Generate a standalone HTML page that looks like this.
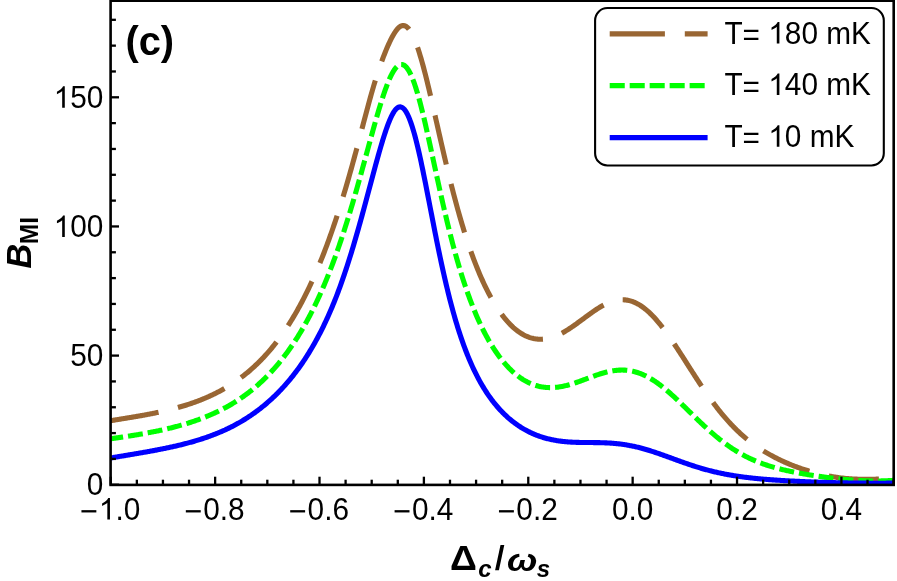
<!DOCTYPE html>
<html><head><meta charset="utf-8"><title>chart</title>
<style>
html,body{margin:0;padding:0;background:#fff;}
text{filter:grayscale(1);}
svg{display:block;font-family:"Liberation Sans",sans-serif;}
</style></head>
<body>
<svg width="897" height="581" viewBox="0 0 897 581">
<rect x="0" y="0" width="897" height="581" fill="#fff"/>
<defs><clipPath id="pc"><rect x="110.6" y="0.7" width="784.9" height="484.2"/></clipPath></defs>
<g clip-path="url(#pc)" fill="none" stroke-width="5.1" stroke-linejoin="round">
<path d="M110.70,420.68 L111.57,420.54 L112.44,420.40 L113.32,420.26 L114.19,420.12 L115.06,419.98 L115.93,419.83 L116.80,419.69 L117.67,419.55 L118.55,419.41 L119.42,419.27 L120.29,419.13 L121.16,418.99 L122.03,418.85 L122.91,418.71 L123.78,418.57 L124.65,418.42 L125.52,418.28 L126.39,418.14 L127.26,418.00 L128.14,417.85 L129.01,417.71 L129.88,417.56 L130.75,417.42 L131.62,417.27 L132.50,417.13 L133.37,416.98 L134.24,416.83 L135.11,416.68 L135.98,416.53 L136.85,416.38 L137.73,416.23 L138.60,416.08 L139.47,415.93 L140.34,415.77 L141.21,415.62 L142.08,415.46 L142.96,415.30 L143.83,415.15 L144.70,414.99 L145.57,414.83 L146.44,414.66 L147.32,414.50 L148.19,414.33 L149.06,414.17 L149.93,414.00 L150.80,413.83 L151.67,413.66 L152.55,413.49 L153.42,413.31 L154.29,413.14 L155.16,412.96 L156.03,412.78 L156.91,412.60 L157.78,412.41 L158.65,412.23 L159.52,412.04 L160.39,411.85 L161.26,411.66 L162.14,411.47 L163.01,411.27 L163.88,411.07 L164.75,410.87 L165.62,410.67 L166.50,410.46 L167.37,410.26 L168.24,410.05 L169.11,409.83 L169.98,409.62 L170.85,409.40 L171.73,409.18 L172.60,408.96 L173.47,408.73 L174.34,408.50 L175.21,408.27 L176.09,408.04 L176.96,407.80 L177.83,407.56 L178.70,407.31 L179.57,407.07 L180.44,406.82 L181.32,406.56 L182.19,406.31 L183.06,406.05 L183.93,405.78 L184.80,405.51 L185.67,405.24 L186.55,404.97 L187.42,404.69 L188.29,404.41 L189.16,404.12 L190.03,403.83 L190.91,403.54 L191.78,403.24 L192.65,402.94 L193.52,402.63 L194.39,402.32 L195.26,402.01 L196.14,401.69 L197.01,401.37 L197.88,401.04 L198.75,400.71 L199.62,400.37 L200.50,400.03 L201.37,399.68 L202.24,399.33 L203.11,398.97 L203.98,398.61 L204.85,398.25 L205.73,397.88 L206.60,397.50 L207.47,397.12 L208.34,396.73 L209.21,396.34 L210.09,395.94 L210.96,395.54 L211.83,395.13 L212.70,394.72 L213.57,394.29 L214.44,393.87 L215.32,393.44 L216.19,393.00 L217.06,392.55 L217.93,392.10 L218.80,391.65 L219.68,391.18 L220.55,390.71 L221.42,390.24 L222.29,389.75 L223.16,389.26 L224.03,388.77 L224.91,388.26 L225.78,387.75 L226.65,387.24 L227.52,386.71 L228.39,386.18 L229.27,385.64 L230.14,385.09 L231.01,384.54 L231.88,383.98 L232.75,383.41 L233.62,382.83 L234.50,382.24 L235.37,381.65 L236.24,381.05 L237.11,380.44 L237.98,379.82 L238.85,379.19 L239.73,378.55 L240.60,377.91 L241.47,377.25 L242.34,376.59 L243.21,375.92 L244.09,375.24 L244.96,374.55 L245.83,373.85 L246.70,373.14 L247.57,372.42 L248.44,371.69 L249.32,370.95 L250.19,370.20 L251.06,369.44 L251.93,368.67 L252.80,367.89 L253.68,367.10 L254.55,366.29 L255.42,365.48 L256.29,364.66 L257.16,363.82 L258.03,362.98 L258.91,362.12 L259.78,361.25 L260.65,360.37 L261.52,359.47 L262.39,358.57 L263.27,357.65 L264.14,356.72 L265.01,355.77 L265.88,354.82 L266.75,353.85 L267.62,352.87 L268.50,351.87 L269.37,350.86 L270.24,349.84 L271.11,348.80 L271.98,347.75 L272.86,346.69 L273.73,345.61 L274.60,344.51 L275.47,343.40 L276.34,342.28 L277.21,341.14 L278.09,339.99 L278.96,338.82 L279.83,337.64 L280.70,336.43 L281.57,335.22 L282.44,333.99 L283.32,332.74 L284.19,331.47 L285.06,330.19 L285.93,328.89 L286.80,327.58 L287.68,326.24 L288.55,324.89 L289.42,323.53 L290.29,322.14 L291.16,320.74 L292.03,319.32 L292.91,317.88 L293.78,316.42 L294.65,314.94 L295.52,313.45 L296.39,311.93 L297.27,310.40 L298.14,308.84 L299.01,307.27 L299.88,305.68 L300.75,304.06 L301.62,302.43 L302.50,300.77 L303.37,299.10 L304.24,297.40 L305.11,295.68 L305.98,293.94 L306.86,292.18 L307.73,290.39 L308.60,288.59 L309.47,286.76 L310.34,284.90 L311.21,283.03 L312.09,281.13 L312.96,279.21 L313.83,277.26 L314.70,275.29 L315.57,273.30 L316.45,271.28 L317.32,269.24 L318.19,267.17 L319.06,265.08 L319.93,262.96 L320.80,260.81 L321.68,258.64 L322.55,256.45 L323.42,254.23 L324.29,251.98 L325.16,249.70 L326.04,247.40 L326.91,245.07 L327.78,242.71 L328.65,240.33 L329.52,237.92 L330.39,235.48 L331.27,233.01 L332.14,230.51 L333.01,227.99 L333.88,225.44 L334.75,222.86 L335.62,220.25 L336.50,217.61 L337.37,214.94 L338.24,212.25 L339.11,209.53 L339.98,206.77 L340.86,203.99 L341.73,201.19 L342.60,198.35 L343.47,195.48 L344.34,192.59 L345.21,189.67 L346.09,186.72 L346.96,183.74 L347.83,180.74 L348.70,177.71 L349.57,174.65 L350.45,171.57 L351.32,168.46 L352.19,165.33 L353.06,162.17 L353.93,158.99 L354.80,155.79 L355.68,152.56 L356.55,149.32 L357.42,146.05 L358.29,142.77 L359.16,139.48 L360.04,136.17 L360.91,132.86 L361.78,129.55 L362.65,126.23 L363.52,122.92 L364.39,119.62 L365.27,116.33 L366.14,113.05 L367.01,109.79 L367.88,106.55 L368.75,103.34 L369.63,100.16 L370.50,97.01 L371.37,93.91 L372.24,90.85 L373.11,87.84 L373.98,84.88 L374.86,81.98 L375.73,79.15 L376.60,76.39 L377.47,73.69 L378.34,71.05 L379.22,68.47 L380.09,65.95 L380.96,63.49 L381.83,61.09 L382.70,58.74 L383.57,56.44 L384.45,54.20 L385.32,52.02 L386.19,49.89 L387.06,47.82 L387.93,45.81 L388.80,43.86 L389.68,41.99 L390.55,40.18 L391.42,38.46 L392.29,36.80 L393.16,35.24 L394.04,33.75 L394.91,32.37 L395.78,31.09 L396.65,29.92 L397.52,28.87 L398.39,27.95 L399.27,27.17 L400.14,26.53 L401.01,26.05 L401.88,25.72 L402.75,25.55 L403.63,25.55 L404.50,25.71 L405.37,26.04 L406.24,26.54 L407.11,27.20 L407.98,28.03 L408.86,29.02 L409.73,30.18 L410.60,31.49 L411.47,32.97 L412.34,34.60 L413.22,36.39 L414.09,38.32 L414.96,40.40 L415.83,42.62 L416.70,44.97 L417.57,47.45 L418.45,50.06 L419.32,52.79 L420.19,55.63 L421.06,58.58 L421.93,61.63 L422.81,64.77 L423.68,68.00 L424.55,71.32 L425.42,74.71 L426.29,78.17 L427.16,81.70 L428.04,85.28 L428.91,88.92 L429.78,92.60 L430.65,96.32 L431.52,100.08 L432.39,103.86 L433.27,107.67 L434.14,111.50 L435.01,115.34 L435.88,119.19 L436.75,123.04 L437.63,126.90 L438.50,130.75 L439.37,134.59 L440.24,138.43 L441.11,142.24 L441.98,146.05 L442.86,149.83 L443.73,153.59 L444.60,157.32 L445.47,161.02 L446.34,164.70 L447.22,168.34 L448.09,171.95 L448.96,175.53 L449.83,179.06 L450.70,182.56 L451.57,186.02 L452.45,189.44 L453.32,192.82 L454.19,196.15 L455.06,199.44 L455.93,202.69 L456.81,205.90 L457.68,209.06 L458.55,212.17 L459.42,215.24 L460.29,218.27 L461.16,221.25 L462.04,224.18 L462.91,227.07 L463.78,229.92 L464.65,232.72 L465.52,235.47 L466.40,238.18 L467.27,240.84 L468.14,243.47 L469.01,246.04 L469.88,248.58 L470.75,251.07 L471.63,253.51 L472.50,255.92 L473.37,258.28 L474.24,260.60 L475.11,262.88 L475.99,265.11 L476.86,267.31 L477.73,269.47 L478.60,271.58 L479.47,273.66 L480.34,275.69 L481.22,277.69 L482.09,279.65 L482.96,281.58 L483.83,283.46 L484.70,285.31 L485.57,287.12 L486.45,288.89 L487.32,290.63 L488.19,292.33 L489.06,294.00 L489.93,295.63 L490.81,297.23 L491.68,298.79 L492.55,300.32 L493.42,301.82 L494.29,303.28 L495.16,304.71 L496.04,306.10 L496.91,307.47 L497.78,308.80 L498.65,310.10 L499.52,311.37 L500.40,312.61 L501.27,313.81 L502.14,314.99 L503.01,316.13 L503.88,317.25 L504.75,318.33 L505.63,319.39 L506.50,320.41 L507.37,321.41 L508.24,322.38 L509.11,323.31 L509.99,324.22 L510.86,325.10 L511.73,325.96 L512.60,326.78 L513.47,327.58 L514.34,328.34 L515.22,329.08 L516.09,329.80 L516.96,330.48 L517.83,331.14 L518.70,331.77 L519.58,332.38 L520.45,332.95 L521.32,333.51 L522.19,334.03 L523.06,334.53 L523.93,335.00 L524.81,335.45 L525.68,335.87 L526.55,336.26 L527.42,336.63 L528.29,336.98 L529.16,337.30 L530.04,337.59 L530.91,337.86 L531.78,338.10 L532.65,338.32 L533.52,338.52 L534.40,338.69 L535.27,338.84 L536.14,338.96 L537.01,339.06 L537.88,339.14 L538.75,339.20 L539.63,339.23 L540.50,339.24 L541.37,339.22 L542.24,339.19 L543.11,339.13 L543.99,339.05 L544.86,338.95 L545.73,338.83 L546.60,338.69 L547.47,338.52 L548.34,338.34 L549.22,338.14 L550.09,337.91 L550.96,337.67 L551.83,337.41 L552.70,337.13 L553.58,336.83 L554.45,336.51 L555.32,336.18 L556.19,335.83 L557.06,335.46 L557.93,335.07 L558.81,334.67 L559.68,334.25 L560.55,333.82 L561.42,333.37 L562.29,332.91 L563.17,332.43 L564.04,331.94 L564.91,331.44 L565.78,330.92 L566.65,330.40 L567.52,329.86 L568.40,329.31 L569.27,328.75 L570.14,328.17 L571.01,327.60 L571.88,327.01 L572.76,326.41 L573.63,325.81 L574.50,325.19 L575.37,324.58 L576.24,323.95 L577.11,323.32 L577.99,322.69 L578.86,322.05 L579.73,321.41 L580.60,320.77 L581.47,320.12 L582.34,319.47 L583.22,318.83 L584.09,318.18 L584.96,317.53 L585.83,316.89 L586.70,316.24 L587.58,315.60 L588.45,314.97 L589.32,314.33 L590.19,313.70 L591.06,313.08 L591.93,312.46 L592.81,311.85 L593.68,311.25 L594.55,310.66 L595.42,310.07 L596.29,309.50 L597.17,308.93 L598.04,308.38 L598.91,307.83 L599.78,307.30 L600.65,306.79 L601.52,306.28 L602.40,305.79 L603.27,305.32 L604.14,304.86 L605.01,304.42 L605.88,303.99 L606.76,303.58 L607.63,303.19 L608.50,302.82 L609.37,302.46 L610.24,302.13 L611.11,301.82 L611.99,301.52 L612.86,301.25 L613.73,301.00 L614.60,300.77 L615.47,300.57 L616.35,300.38 L617.22,300.22 L618.09,300.09 L618.96,299.98 L619.83,299.89 L620.70,299.83 L621.58,299.79 L622.45,299.78 L623.32,299.79 L624.19,299.83 L625.06,299.90 L625.93,299.99 L626.81,300.11 L627.68,300.26 L628.55,300.43 L629.42,300.63 L630.29,300.86 L631.17,301.12 L632.04,301.40 L632.91,301.71 L633.78,302.05 L634.65,302.42 L635.52,302.81 L636.40,303.23 L637.27,303.68 L638.14,304.15 L639.01,304.65 L639.88,305.18 L640.76,305.74 L641.63,306.32 L642.50,306.93 L643.37,307.56 L644.24,308.23 L645.11,308.91 L645.99,309.63 L646.86,310.36 L647.73,311.12 L648.60,311.91 L649.47,312.72 L650.35,313.56 L651.22,314.41 L652.09,315.30 L652.96,316.20 L653.83,317.12 L654.70,318.07 L655.58,319.04 L656.45,320.03 L657.32,321.04 L658.19,322.07 L659.06,323.12 L659.94,324.19 L660.81,325.27 L661.68,326.38 L662.55,327.50 L663.42,328.64 L664.29,329.79 L665.17,330.96 L666.04,332.15 L666.91,333.35 L667.78,334.56 L668.65,335.79 L669.53,337.03 L670.40,338.28 L671.27,339.54 L672.14,340.82 L673.01,342.10 L673.88,343.40 L674.76,344.70 L675.63,346.01 L676.50,347.33 L677.37,348.66 L678.24,349.99 L679.11,351.33 L679.99,352.67 L680.86,354.02 L681.73,355.38 L682.60,356.73 L683.47,358.10 L684.35,359.46 L685.22,360.82 L686.09,362.19 L686.96,363.56 L687.83,364.93 L688.70,366.29 L689.58,367.66 L690.45,369.02 L691.32,370.39 L692.19,371.75 L693.06,373.11 L693.94,374.46 L694.81,375.81 L695.68,377.16 L696.55,378.50 L697.42,379.84 L698.29,381.17 L699.17,382.49 L700.04,383.81 L700.91,385.13 L701.78,386.43 L702.65,387.73 L703.53,389.02 L704.40,390.30 L705.27,391.57 L706.14,392.84 L707.01,394.09 L707.88,395.34 L708.76,396.57 L709.63,397.80 L710.50,399.01 L711.37,400.22 L712.24,401.41 L713.12,402.60 L713.99,403.77 L714.86,404.93 L715.73,406.08 L716.60,407.22 L717.47,408.34 L718.35,409.46 L719.22,410.56 L720.09,411.65 L720.96,412.73 L721.83,413.80 L722.71,414.85 L723.58,415.89 L724.45,416.92 L725.32,417.93 L726.19,418.94 L727.06,419.93 L727.94,420.91 L728.81,421.87 L729.68,422.82 L730.55,423.76 L731.42,424.69 L732.29,425.61 L733.17,426.51 L734.04,427.40 L734.91,428.28 L735.78,429.14 L736.65,430.00 L737.53,430.84 L738.40,431.67 L739.27,432.48 L740.14,433.29 L741.01,434.08 L741.88,434.86 L742.76,435.63 L743.63,436.39 L744.50,437.14 L745.37,437.88 L746.24,438.60 L747.12,439.32 L747.99,440.02 L748.86,440.72 L749.73,441.40 L750.60,442.07 L751.47,442.74 L752.35,443.39 L753.22,444.03 L754.09,444.67 L754.96,445.29 L755.83,445.91 L756.71,446.51 L757.58,447.11 L758.45,447.70 L759.32,448.28 L760.19,448.85 L761.06,449.41 L761.94,449.97 L762.81,450.52 L763.68,451.06 L764.55,451.59 L765.42,452.12 L766.30,452.64 L767.17,453.15 L768.04,453.66 L768.91,454.15 L769.78,454.65 L770.65,455.13 L771.53,455.61 L772.40,456.08 L773.27,456.55 L774.14,457.00 L775.01,457.46 L775.88,457.90 L776.76,458.34 L777.63,458.78 L778.50,459.21 L779.37,459.63 L780.24,460.05 L781.12,460.46 L781.99,460.87 L782.86,461.27 L783.73,461.66 L784.60,462.06 L785.47,462.44 L786.35,462.82 L787.22,463.20 L788.09,463.57 L788.96,463.93 L789.83,464.29 L790.71,464.65 L791.58,465.00 L792.45,465.34 L793.32,465.68 L794.19,466.02 L795.06,466.35 L795.94,466.68 L796.81,467.00 L797.68,467.32 L798.55,467.63 L799.42,467.94 L800.30,468.25 L801.17,468.55 L802.04,468.85 L802.91,469.14 L803.78,469.43 L804.65,469.71 L805.53,469.99 L806.40,470.27 L807.27,470.54 L808.14,470.81 L809.01,471.07 L809.89,471.33 L810.76,471.59 L811.63,471.84 L812.50,472.09 L813.37,472.33 L814.24,472.57 L815.12,472.81 L815.99,473.04 L816.86,473.27 L817.73,473.49 L818.60,473.71 L819.48,473.92 L820.35,474.13 L821.22,474.34 L822.09,474.55 L822.96,474.74 L823.83,474.94 L824.71,475.13 L825.58,475.32 L826.45,475.50 L827.32,475.68 L828.19,475.85 L829.06,476.02 L829.94,476.19 L830.81,476.35 L831.68,476.51 L832.55,476.66 L833.42,476.81 L834.30,476.95 L835.17,477.09 L836.04,477.23 L836.91,477.36 L837.78,477.48 L838.65,477.61 L839.53,477.72 L840.40,477.84 L841.27,477.94 L842.14,478.05 L843.01,478.15 L843.89,478.24 L844.76,478.33 L845.63,478.42 L846.50,478.50 L847.37,478.57 L848.24,478.65 L849.12,478.72 L849.99,478.78 L850.86,478.84 L851.73,478.90 L852.60,478.95 L853.48,479.00 L854.35,479.04 L855.22,479.09 L856.09,479.12 L856.96,479.16 L857.83,479.19 L858.71,479.22 L859.58,479.24 L860.45,479.26 L861.32,479.28 L862.19,479.30 L863.07,479.31 L863.94,479.32 L864.81,479.32 L865.68,479.33 L866.55,479.33 L867.42,479.32 L868.30,479.32 L869.17,479.31 L870.04,479.30 L870.91,479.28 L871.78,479.27 L872.65,479.25 L873.53,479.23 L874.40,479.20 L875.27,479.18 L876.14,479.15 L877.01,479.12 L877.89,479.09 L878.76,479.05 L879.63,479.02 L880.50,478.98 L881.37,478.94 L882.24,478.90 L883.12,478.85 L883.99,478.80 L884.86,478.76 L885.73,478.71 L886.60,478.66 L887.48,478.60 L888.35,478.55 L889.22,478.49 L890.09,478.44 L890.96,478.38 L891.83,478.32 L892.71,478.26 L893.58,478.19 L894.45,478.13" stroke="#996633" stroke-dasharray="50.34 20.00" stroke-dashoffset="1.78"/>
<path d="M110.70,438.77 L111.57,438.65 L112.44,438.52 L113.32,438.40 L114.19,438.27 L115.06,438.15 L115.93,438.02 L116.80,437.89 L117.67,437.77 L118.55,437.64 L119.42,437.51 L120.29,437.38 L121.16,437.25 L122.03,437.12 L122.91,436.99 L123.78,436.86 L124.65,436.73 L125.52,436.60 L126.39,436.46 L127.26,436.33 L128.14,436.19 L129.01,436.06 L129.88,435.92 L130.75,435.78 L131.62,435.64 L132.50,435.50 L133.37,435.36 L134.24,435.22 L135.11,435.08 L135.98,434.93 L136.85,434.79 L137.73,434.64 L138.60,434.49 L139.47,434.35 L140.34,434.20 L141.21,434.05 L142.08,433.89 L142.96,433.74 L143.83,433.58 L144.70,433.43 L145.57,433.27 L146.44,433.11 L147.32,432.95 L148.19,432.79 L149.06,432.62 L149.93,432.46 L150.80,432.29 L151.67,432.12 L152.55,431.95 L153.42,431.78 L154.29,431.61 L155.16,431.43 L156.03,431.25 L156.91,431.07 L157.78,430.89 L158.65,430.71 L159.52,430.52 L160.39,430.34 L161.26,430.15 L162.14,429.96 L163.01,429.76 L163.88,429.57 L164.75,429.37 L165.62,429.17 L166.50,428.97 L167.37,428.76 L168.24,428.56 L169.11,428.35 L169.98,428.14 L170.85,427.92 L171.73,427.71 L172.60,427.49 L173.47,427.27 L174.34,427.04 L175.21,426.82 L176.09,426.59 L176.96,426.35 L177.83,426.12 L178.70,425.88 L179.57,425.64 L180.44,425.40 L181.32,425.15 L182.19,424.90 L183.06,424.65 L183.93,424.39 L184.80,424.13 L185.67,423.87 L186.55,423.61 L187.42,423.34 L188.29,423.06 L189.16,422.79 L190.03,422.51 L190.91,422.23 L191.78,421.94 L192.65,421.65 L193.52,421.36 L194.39,421.06 L195.26,420.76 L196.14,420.46 L197.01,420.15 L197.88,419.84 L198.75,419.52 L199.62,419.20 L200.50,418.88 L201.37,418.55 L202.24,418.21 L203.11,417.88 L203.98,417.54 L204.85,417.19 L205.73,416.84 L206.60,416.49 L207.47,416.13 L208.34,415.76 L209.21,415.39 L210.09,415.02 L210.96,414.64 L211.83,414.26 L212.70,413.87 L213.57,413.48 L214.44,413.08 L215.32,412.68 L216.19,412.27 L217.06,411.85 L217.93,411.43 L218.80,411.01 L219.68,410.58 L220.55,410.14 L221.42,409.70 L222.29,409.25 L223.16,408.80 L224.03,408.34 L224.91,407.88 L225.78,407.40 L226.65,406.93 L227.52,406.44 L228.39,405.95 L229.27,405.46 L230.14,404.95 L231.01,404.44 L231.88,403.93 L232.75,403.40 L233.62,402.87 L234.50,402.33 L235.37,401.79 L236.24,401.24 L237.11,400.68 L237.98,400.11 L238.85,399.54 L239.73,398.96 L240.60,398.37 L241.47,397.77 L242.34,397.17 L243.21,396.56 L244.09,395.93 L244.96,395.30 L245.83,394.67 L246.70,394.02 L247.57,393.37 L248.44,392.70 L249.32,392.03 L250.19,391.35 L251.06,390.66 L251.93,389.96 L252.80,389.25 L253.68,388.53 L254.55,387.81 L255.42,387.07 L256.29,386.32 L257.16,385.56 L258.03,384.80 L258.91,384.02 L259.78,383.23 L260.65,382.43 L261.52,381.62 L262.39,380.80 L263.27,379.97 L264.14,379.13 L265.01,378.28 L265.88,377.41 L266.75,376.54 L267.62,375.65 L268.50,374.75 L269.37,373.84 L270.24,372.92 L271.11,371.98 L271.98,371.04 L272.86,370.08 L273.73,369.11 L274.60,368.12 L275.47,367.13 L276.34,366.12 L277.21,365.09 L278.09,364.06 L278.96,363.01 L279.83,361.94 L280.70,360.87 L281.57,359.78 L282.44,358.67 L283.32,357.55 L284.19,356.42 L285.06,355.27 L285.93,354.10 L286.80,352.92 L287.68,351.73 L288.55,350.52 L289.42,349.29 L290.29,348.05 L291.16,346.79 L292.03,345.52 L292.91,344.23 L293.78,342.92 L294.65,341.60 L295.52,340.25 L296.39,338.90 L297.27,337.52 L298.14,336.12 L299.01,334.71 L299.88,333.28 L300.75,331.83 L301.62,330.36 L302.50,328.87 L303.37,327.36 L304.24,325.84 L305.11,324.29 L305.98,322.72 L306.86,321.13 L307.73,319.52 L308.60,317.90 L309.47,316.24 L310.34,314.57 L311.21,312.88 L312.09,311.16 L312.96,309.43 L313.83,307.66 L314.70,305.88 L315.57,304.08 L316.45,302.25 L317.32,300.39 L318.19,298.52 L319.06,296.62 L319.93,294.69 L320.80,292.74 L321.68,290.77 L322.55,288.77 L323.42,286.74 L324.29,284.69 L325.16,282.61 L326.04,280.51 L326.91,278.38 L327.78,276.23 L328.65,274.04 L329.52,271.84 L330.39,269.60 L331.27,267.34 L332.14,265.05 L333.01,262.73 L333.88,260.38 L334.75,258.01 L335.62,255.60 L336.50,253.17 L337.37,250.72 L338.24,248.23 L339.11,245.71 L339.98,243.17 L340.86,240.60 L341.73,238.00 L342.60,235.37 L343.47,232.72 L344.34,230.03 L345.21,227.32 L346.09,224.58 L346.96,221.82 L347.83,219.02 L348.70,216.20 L349.57,213.36 L350.45,210.49 L351.32,207.59 L352.19,204.67 L353.06,201.72 L353.93,198.75 L354.80,195.75 L355.68,192.74 L356.55,189.70 L357.42,186.64 L358.29,183.57 L359.16,180.47 L360.04,177.36 L360.91,174.24 L361.78,171.09 L362.65,167.94 L363.52,164.77 L364.39,161.60 L365.27,158.42 L366.14,155.23 L367.01,152.04 L367.88,148.85 L368.75,145.66 L369.63,142.47 L370.50,139.29 L371.37,136.12 L372.24,132.96 L373.11,129.82 L373.98,126.70 L374.86,123.60 L375.73,120.52 L376.60,117.48 L377.47,114.47 L378.34,111.50 L379.22,108.57 L380.09,105.69 L380.96,102.86 L381.83,100.09 L382.70,97.38 L383.57,94.73 L384.45,92.16 L385.32,89.67 L386.19,87.26 L387.06,84.95 L387.93,82.72 L388.80,80.60 L389.68,78.58 L390.55,76.68 L391.42,74.89 L392.29,73.23 L393.16,71.69 L394.04,70.29 L394.91,69.03 L395.78,67.91 L396.65,66.94 L397.52,66.13 L398.39,65.47 L399.27,64.98 L400.14,64.64 L401.01,64.48 L401.88,64.49 L402.75,64.67 L403.63,65.03 L404.50,65.55 L405.37,66.26 L406.24,67.14 L407.11,68.20 L407.98,69.43 L408.86,70.83 L409.73,72.40 L410.60,74.14 L411.47,76.04 L412.34,78.11 L413.22,80.32 L414.09,82.69 L414.96,85.21 L415.83,87.86 L416.70,90.65 L417.57,93.56 L418.45,96.60 L419.32,99.75 L420.19,103.01 L421.06,106.37 L421.93,109.82 L422.81,113.36 L423.68,116.97 L424.55,120.66 L425.42,124.41 L426.29,128.22 L427.16,132.08 L428.04,135.98 L428.91,139.92 L429.78,143.89 L430.65,147.88 L431.52,151.89 L432.39,155.92 L433.27,159.95 L434.14,163.98 L435.01,168.02 L435.88,172.04 L436.75,176.05 L437.63,180.05 L438.50,184.02 L439.37,187.98 L440.24,191.90 L441.11,195.80 L441.98,199.66 L442.86,203.49 L443.73,207.28 L444.60,211.04 L445.47,214.75 L446.34,218.42 L447.22,222.04 L448.09,225.62 L448.96,229.16 L449.83,232.64 L450.70,236.08 L451.57,239.46 L452.45,242.80 L453.32,246.09 L454.19,249.33 L455.06,252.51 L455.93,255.65 L456.81,258.73 L457.68,261.77 L458.55,264.75 L459.42,267.69 L460.29,270.57 L461.16,273.40 L462.04,276.19 L462.91,278.92 L463.78,281.61 L464.65,284.25 L465.52,286.84 L466.40,289.38 L467.27,291.88 L468.14,294.33 L469.01,296.73 L469.88,299.09 L470.75,301.41 L471.63,303.68 L472.50,305.91 L473.37,308.10 L474.24,310.25 L475.11,312.35 L475.99,314.41 L476.86,316.44 L477.73,318.42 L478.60,320.37 L479.47,322.28 L480.34,324.15 L481.22,325.98 L482.09,327.78 L482.96,329.54 L483.83,331.27 L484.70,332.96 L485.57,334.62 L486.45,336.24 L487.32,337.83 L488.19,339.39 L489.06,340.92 L489.93,342.41 L490.81,343.88 L491.68,345.31 L492.55,346.71 L493.42,348.09 L494.29,349.43 L495.16,350.75 L496.04,352.03 L496.91,353.29 L497.78,354.52 L498.65,355.73 L499.52,356.90 L500.40,358.05 L501.27,359.18 L502.14,360.28 L503.01,361.35 L503.88,362.40 L504.75,363.42 L505.63,364.41 L506.50,365.39 L507.37,366.34 L508.24,367.26 L509.11,368.16 L509.99,369.04 L510.86,369.89 L511.73,370.73 L512.60,371.54 L513.47,372.32 L514.34,373.09 L515.22,373.83 L516.09,374.55 L516.96,375.25 L517.83,375.93 L518.70,376.58 L519.58,377.22 L520.45,377.83 L521.32,378.43 L522.19,379.00 L523.06,379.56 L523.93,380.09 L524.81,380.60 L525.68,381.10 L526.55,381.57 L527.42,382.03 L528.29,382.46 L529.16,382.88 L530.04,383.28 L530.91,383.66 L531.78,384.02 L532.65,384.36 L533.52,384.68 L534.40,384.99 L535.27,385.28 L536.14,385.55 L537.01,385.80 L537.88,386.03 L538.75,386.25 L539.63,386.45 L540.50,386.64 L541.37,386.81 L542.24,386.96 L543.11,387.09 L543.99,387.21 L544.86,387.31 L545.73,387.40 L546.60,387.47 L547.47,387.53 L548.34,387.57 L549.22,387.60 L550.09,387.61 L550.96,387.61 L551.83,387.59 L552.70,387.56 L553.58,387.52 L554.45,387.46 L555.32,387.39 L556.19,387.31 L557.06,387.21 L557.93,387.11 L558.81,386.98 L559.68,386.85 L560.55,386.71 L561.42,386.55 L562.29,386.39 L563.17,386.21 L564.04,386.03 L564.91,385.83 L565.78,385.62 L566.65,385.41 L567.52,385.18 L568.40,384.95 L569.27,384.71 L570.14,384.46 L571.01,384.20 L571.88,383.94 L572.76,383.67 L573.63,383.39 L574.50,383.10 L575.37,382.81 L576.24,382.52 L577.11,382.22 L577.99,381.92 L578.86,381.61 L579.73,381.29 L580.60,380.98 L581.47,380.66 L582.34,380.34 L583.22,380.02 L584.09,379.69 L584.96,379.37 L585.83,379.04 L586.70,378.71 L587.58,378.39 L588.45,378.06 L589.32,377.73 L590.19,377.41 L591.06,377.09 L591.93,376.76 L592.81,376.45 L593.68,376.13 L594.55,375.82 L595.42,375.51 L596.29,375.21 L597.17,374.91 L598.04,374.62 L598.91,374.33 L599.78,374.05 L600.65,373.77 L601.52,373.51 L602.40,373.24 L603.27,372.99 L604.14,372.74 L605.01,372.51 L605.88,372.28 L606.76,372.06 L607.63,371.85 L608.50,371.65 L609.37,371.46 L610.24,371.28 L611.11,371.11 L611.99,370.96 L612.86,370.81 L613.73,370.68 L614.60,370.56 L615.47,370.45 L616.35,370.36 L617.22,370.27 L618.09,370.20 L618.96,370.15 L619.83,370.11 L620.70,370.08 L621.58,370.07 L622.45,370.07 L623.32,370.08 L624.19,370.12 L625.06,370.16 L625.93,370.22 L626.81,370.30 L627.68,370.39 L628.55,370.50 L629.42,370.63 L630.29,370.77 L631.17,370.92 L632.04,371.09 L632.91,371.28 L633.78,371.49 L634.65,371.71 L635.52,371.94 L636.40,372.20 L637.27,372.47 L638.14,372.75 L639.01,373.05 L639.88,373.37 L640.76,373.71 L641.63,374.06 L642.50,374.42 L643.37,374.80 L644.24,375.20 L645.11,375.62 L645.99,376.05 L646.86,376.49 L647.73,376.95 L648.60,377.42 L649.47,377.91 L650.35,378.42 L651.22,378.94 L652.09,379.47 L652.96,380.02 L653.83,380.58 L654.70,381.16 L655.58,381.74 L656.45,382.35 L657.32,382.96 L658.19,383.59 L659.06,384.23 L659.94,384.88 L660.81,385.54 L661.68,386.22 L662.55,386.90 L663.42,387.60 L664.29,388.31 L665.17,389.03 L666.04,389.75 L666.91,390.49 L667.78,391.24 L668.65,391.99 L669.53,392.75 L670.40,393.52 L671.27,394.30 L672.14,395.09 L673.01,395.88 L673.88,396.68 L674.76,397.49 L675.63,398.30 L676.50,399.12 L677.37,399.94 L678.24,400.77 L679.11,401.60 L679.99,402.44 L680.86,403.28 L681.73,404.12 L682.60,404.97 L683.47,405.82 L684.35,406.67 L685.22,407.52 L686.09,408.38 L686.96,409.23 L687.83,410.09 L688.70,410.95 L689.58,411.80 L690.45,412.66 L691.32,413.52 L692.19,414.37 L693.06,415.23 L693.94,416.08 L694.81,416.93 L695.68,417.78 L696.55,418.63 L697.42,419.47 L698.29,420.31 L699.17,421.15 L700.04,421.98 L700.91,422.81 L701.78,423.64 L702.65,424.46 L703.53,425.28 L704.40,426.09 L705.27,426.90 L706.14,427.70 L707.01,428.49 L707.88,429.29 L708.76,430.07 L709.63,430.85 L710.50,431.62 L711.37,432.39 L712.24,433.15 L713.12,433.90 L713.99,434.64 L714.86,435.38 L715.73,436.11 L716.60,436.84 L717.47,437.55 L718.35,438.26 L719.22,438.96 L720.09,439.66 L720.96,440.34 L721.83,441.02 L722.71,441.69 L723.58,442.35 L724.45,443.01 L725.32,443.65 L726.19,444.29 L727.06,444.92 L727.94,445.54 L728.81,446.15 L729.68,446.75 L730.55,447.35 L731.42,447.93 L732.29,448.51 L733.17,449.08 L734.04,449.64 L734.91,450.19 L735.78,450.74 L736.65,451.28 L737.53,451.80 L738.40,452.32 L739.27,452.83 L740.14,453.34 L741.01,453.83 L741.88,454.32 L742.76,454.80 L743.63,455.27 L744.50,455.73 L745.37,456.19 L746.24,456.64 L747.12,457.08 L747.99,457.51 L748.86,457.93 L749.73,458.35 L750.60,458.76 L751.47,459.16 L752.35,459.56 L753.22,459.94 L754.09,460.33 L754.96,460.70 L755.83,461.07 L756.71,461.43 L757.58,461.78 L758.45,462.13 L759.32,462.47 L760.19,462.81 L761.06,463.14 L761.94,463.46 L762.81,463.78 L763.68,464.09 L764.55,464.39 L765.42,464.69 L766.30,464.99 L767.17,465.27 L768.04,465.56 L768.91,465.84 L769.78,466.11 L770.65,466.38 L771.53,466.64 L772.40,466.90 L773.27,467.15 L774.14,467.40 L775.01,467.65 L775.88,467.89 L776.76,468.13 L777.63,468.36 L778.50,468.59 L779.37,468.81 L780.24,469.03 L781.12,469.25 L781.99,469.46 L782.86,469.67 L783.73,469.88 L784.60,470.08 L785.47,470.28 L786.35,470.48 L787.22,470.67 L788.09,470.86 L788.96,471.05 L789.83,471.24 L790.71,471.42 L791.58,471.60 L792.45,471.78 L793.32,471.95 L794.19,472.13 L795.06,472.30 L795.94,472.47 L796.81,472.63 L797.68,472.80 L798.55,472.96 L799.42,473.12 L800.30,473.28 L801.17,473.44 L802.04,473.59 L802.91,473.75 L803.78,473.90 L804.65,474.05 L805.53,474.20 L806.40,474.35 L807.27,474.49 L808.14,474.64 L809.01,474.78 L809.89,474.92 L810.76,475.06 L811.63,475.20 L812.50,475.34 L813.37,475.48 L814.24,475.61 L815.12,475.74 L815.99,475.88 L816.86,476.01 L817.73,476.14 L818.60,476.26 L819.48,476.39 L820.35,476.52 L821.22,476.64 L822.09,476.76 L822.96,476.88 L823.83,477.00 L824.71,477.12 L825.58,477.24 L826.45,477.35 L827.32,477.47 L828.19,477.58 L829.06,477.69 L829.94,477.80 L830.81,477.91 L831.68,478.01 L832.55,478.12 L833.42,478.22 L834.30,478.32 L835.17,478.42 L836.04,478.52 L836.91,478.62 L837.78,478.72 L838.65,478.81 L839.53,478.90 L840.40,478.99 L841.27,479.08 L842.14,479.17 L843.01,479.26 L843.89,479.34 L844.76,479.42 L845.63,479.50 L846.50,479.58 L847.37,479.66 L848.24,479.73 L849.12,479.81 L849.99,479.88 L850.86,479.95 L851.73,480.01 L852.60,480.08 L853.48,480.14 L854.35,480.20 L855.22,480.26 L856.09,480.32 L856.96,480.37 L857.83,480.43 L858.71,480.48 L859.58,480.53 L860.45,480.57 L861.32,480.62 L862.19,480.66 L863.07,480.70 L863.94,480.73 L864.81,480.77 L865.68,480.80 L866.55,480.83 L867.42,480.86 L868.30,480.88 L869.17,480.90 L870.04,480.92 L870.91,480.94 L871.78,480.95 L872.65,480.97 L873.53,480.97 L874.40,480.98 L875.27,480.98 L876.14,480.98 L877.01,480.98 L877.89,480.98 L878.76,480.97 L879.63,480.96 L880.50,480.94 L881.37,480.92 L882.24,480.90 L883.12,480.88 L883.99,480.85 L884.86,480.82 L885.73,480.79 L886.60,480.76 L887.48,480.72 L888.35,480.67 L889.22,480.63 L890.09,480.58 L890.96,480.52 L891.83,480.47 L892.71,480.41 L893.58,480.35 L894.45,480.28" stroke="#00ff00" stroke-dasharray="14.95 4.98" stroke-dashoffset="2.41"/>
<path d="M110.70,457.94 L111.57,457.80 L112.44,457.65 L113.32,457.50 L114.19,457.35 L115.06,457.21 L115.93,457.06 L116.80,456.92 L117.67,456.77 L118.55,456.62 L119.42,456.48 L120.29,456.33 L121.16,456.19 L122.03,456.04 L122.91,455.90 L123.78,455.75 L124.65,455.61 L125.52,455.46 L126.39,455.31 L127.26,455.17 L128.14,455.02 L129.01,454.88 L129.88,454.73 L130.75,454.59 L131.62,454.44 L132.50,454.29 L133.37,454.15 L134.24,454.00 L135.11,453.85 L135.98,453.70 L136.85,453.56 L137.73,453.41 L138.60,453.26 L139.47,453.11 L140.34,452.96 L141.21,452.81 L142.08,452.66 L142.96,452.50 L143.83,452.35 L144.70,452.20 L145.57,452.04 L146.44,451.89 L147.32,451.73 L148.19,451.58 L149.06,451.42 L149.93,451.26 L150.80,451.10 L151.67,450.94 L152.55,450.78 L153.42,450.62 L154.29,450.46 L155.16,450.29 L156.03,450.13 L156.91,449.96 L157.78,449.79 L158.65,449.62 L159.52,449.45 L160.39,449.28 L161.26,449.11 L162.14,448.94 L163.01,448.76 L163.88,448.58 L164.75,448.41 L165.62,448.23 L166.50,448.05 L167.37,447.86 L168.24,447.68 L169.11,447.49 L169.98,447.30 L170.85,447.11 L171.73,446.92 L172.60,446.73 L173.47,446.53 L174.34,446.34 L175.21,446.14 L176.09,445.94 L176.96,445.73 L177.83,445.53 L178.70,445.32 L179.57,445.11 L180.44,444.90 L181.32,444.69 L182.19,444.47 L183.06,444.25 L183.93,444.03 L184.80,443.81 L185.67,443.58 L186.55,443.35 L187.42,443.12 L188.29,442.89 L189.16,442.65 L190.03,442.41 L190.91,442.17 L191.78,441.93 L192.65,441.68 L193.52,441.43 L194.39,441.18 L195.26,440.92 L196.14,440.66 L197.01,440.40 L197.88,440.13 L198.75,439.86 L199.62,439.59 L200.50,439.32 L201.37,439.04 L202.24,438.75 L203.11,438.47 L203.98,438.18 L204.85,437.88 L205.73,437.59 L206.60,437.29 L207.47,436.98 L208.34,436.67 L209.21,436.36 L210.09,436.04 L210.96,435.72 L211.83,435.40 L212.70,435.07 L213.57,434.74 L214.44,434.40 L215.32,434.05 L216.19,433.71 L217.06,433.36 L217.93,433.00 L218.80,432.64 L219.68,432.27 L220.55,431.90 L221.42,431.53 L222.29,431.15 L223.16,430.76 L224.03,430.37 L224.91,429.98 L225.78,429.57 L226.65,429.17 L227.52,428.75 L228.39,428.34 L229.27,427.91 L230.14,427.48 L231.01,427.05 L231.88,426.61 L232.75,426.16 L233.62,425.71 L234.50,425.25 L235.37,424.78 L236.24,424.31 L237.11,423.83 L237.98,423.34 L238.85,422.85 L239.73,422.35 L240.60,421.85 L241.47,421.34 L242.34,420.82 L243.21,420.29 L244.09,419.76 L244.96,419.22 L245.83,418.67 L246.70,418.12 L247.57,417.56 L248.44,416.99 L249.32,416.41 L250.19,415.83 L251.06,415.24 L251.93,414.64 L252.80,414.03 L253.68,413.42 L254.55,412.80 L255.42,412.17 L256.29,411.53 L257.16,410.88 L258.03,410.23 L258.91,409.57 L259.78,408.90 L260.65,408.22 L261.52,407.53 L262.39,406.83 L263.27,406.12 L264.14,405.41 L265.01,404.68 L265.88,403.95 L266.75,403.21 L267.62,402.45 L268.50,401.69 L269.37,400.92 L270.24,400.14 L271.11,399.34 L271.98,398.54 L272.86,397.73 L273.73,396.91 L274.60,396.07 L275.47,395.23 L276.34,394.37 L277.21,393.50 L278.09,392.63 L278.96,391.74 L279.83,390.84 L280.70,389.92 L281.57,389.00 L282.44,388.06 L283.32,387.11 L284.19,386.15 L285.06,385.18 L285.93,384.19 L286.80,383.19 L287.68,382.17 L288.55,381.15 L289.42,380.11 L290.29,379.05 L291.16,377.98 L292.03,376.90 L292.91,375.80 L293.78,374.69 L294.65,373.56 L295.52,372.42 L296.39,371.26 L297.27,370.09 L298.14,368.90 L299.01,367.69 L299.88,366.47 L300.75,365.23 L301.62,363.98 L302.50,362.71 L303.37,361.42 L304.24,360.11 L305.11,358.78 L305.98,357.44 L306.86,356.08 L307.73,354.70 L308.60,353.30 L309.47,351.88 L310.34,350.44 L311.21,348.98 L312.09,347.50 L312.96,346.00 L313.83,344.49 L314.70,342.94 L315.57,341.38 L316.45,339.80 L317.32,338.19 L318.19,336.57 L319.06,334.91 L319.93,333.24 L320.80,331.54 L321.68,329.81 L322.55,328.06 L323.42,326.28 L324.29,324.47 L325.16,322.64 L326.04,320.78 L326.91,318.89 L327.78,316.97 L328.65,315.02 L329.52,313.05 L330.39,311.04 L331.27,309.00 L332.14,306.93 L333.01,304.83 L333.88,302.69 L334.75,300.52 L335.62,298.32 L336.50,296.08 L337.37,293.81 L338.24,291.51 L339.11,289.17 L339.98,286.79 L340.86,284.38 L341.73,281.94 L342.60,279.45 L343.47,276.93 L344.34,274.38 L345.21,271.79 L346.09,269.16 L346.96,266.50 L347.83,263.81 L348.70,261.08 L349.57,258.31 L350.45,255.52 L351.32,252.69 L352.19,249.82 L353.06,246.93 L353.93,244.01 L354.80,241.05 L355.68,238.07 L356.55,235.06 L357.42,232.02 L358.29,228.96 L359.16,225.87 L360.04,222.75 L360.91,219.62 L361.78,216.46 L362.65,213.28 L363.52,210.09 L364.39,206.88 L365.27,203.65 L366.14,200.41 L367.01,197.16 L367.88,193.90 L368.75,190.64 L369.63,187.37 L370.50,184.11 L371.37,180.84 L372.24,177.58 L373.11,174.33 L373.98,171.09 L374.86,167.87 L375.73,164.67 L376.60,161.49 L377.47,158.34 L378.34,155.22 L379.22,152.14 L380.09,149.10 L380.96,146.11 L381.83,143.18 L382.70,140.30 L383.57,137.49 L384.45,134.75 L385.32,132.09 L386.19,129.52 L387.06,127.05 L387.93,124.67 L388.80,122.41 L389.68,120.27 L390.55,118.26 L391.42,116.38 L392.29,114.65 L393.16,113.07 L394.04,111.65 L394.91,110.40 L395.78,109.34 L396.65,108.45 L397.52,107.77 L398.39,107.28 L399.27,106.99 L400.14,106.90 L401.01,107.02 L401.88,107.35 L402.75,107.89 L403.63,108.63 L404.50,109.58 L405.37,110.74 L406.24,112.10 L407.11,113.67 L407.98,115.43 L408.86,117.39 L409.73,119.53 L410.60,121.86 L411.47,124.36 L412.34,127.04 L413.22,129.88 L414.09,132.88 L414.96,136.04 L415.83,139.34 L416.70,142.79 L417.57,146.37 L418.45,150.07 L419.32,153.89 L420.19,157.81 L421.06,161.83 L421.93,165.94 L422.81,170.13 L423.68,174.39 L424.55,178.71 L425.42,183.07 L426.29,187.48 L427.16,191.93 L428.04,196.39 L428.91,200.88 L429.78,205.37 L430.65,209.87 L431.52,214.36 L432.39,218.84 L433.27,223.31 L434.14,227.75 L435.01,232.16 L435.88,236.54 L436.75,240.89 L437.63,245.19 L438.50,249.44 L439.37,253.64 L440.24,257.79 L441.11,261.88 L441.98,265.91 L442.86,269.88 L443.73,273.78 L444.60,277.63 L445.47,281.40 L446.34,285.11 L447.22,288.75 L448.09,292.32 L448.96,295.83 L449.83,299.26 L450.70,302.63 L451.57,305.93 L452.45,309.16 L453.32,312.32 L454.19,315.42 L455.06,318.45 L455.93,321.41 L456.81,324.31 L457.68,327.15 L458.55,329.92 L459.42,332.63 L460.29,335.28 L461.16,337.88 L462.04,340.41 L462.91,342.89 L463.78,345.31 L464.65,347.67 L465.52,349.99 L466.40,352.25 L467.27,354.46 L468.14,356.61 L469.01,358.72 L469.88,360.78 L470.75,362.80 L471.63,364.77 L472.50,366.69 L473.37,368.57 L474.24,370.41 L475.11,372.21 L475.99,373.97 L476.86,375.69 L477.73,377.36 L478.60,379.01 L479.47,380.61 L480.34,382.18 L481.22,383.72 L482.09,385.22 L482.96,386.68 L483.83,388.12 L484.70,389.52 L485.57,390.90 L486.45,392.24 L487.32,393.55 L488.19,394.84 L489.06,396.10 L489.93,397.33 L490.81,398.53 L491.68,399.71 L492.55,400.86 L493.42,401.99 L494.29,403.09 L495.16,404.17 L496.04,405.22 L496.91,406.26 L497.78,407.27 L498.65,408.25 L499.52,409.22 L500.40,410.17 L501.27,411.09 L502.14,412.00 L503.01,412.88 L503.88,413.75 L504.75,414.60 L505.63,415.43 L506.50,416.24 L507.37,417.03 L508.24,417.81 L509.11,418.56 L509.99,419.31 L510.86,420.03 L511.73,420.74 L512.60,421.43 L513.47,422.11 L514.34,422.77 L515.22,423.42 L516.09,424.05 L516.96,424.67 L517.83,425.27 L518.70,425.86 L519.58,426.44 L520.45,427.00 L521.32,427.55 L522.19,428.08 L523.06,428.60 L523.93,429.11 L524.81,429.61 L525.68,430.09 L526.55,430.57 L527.42,431.03 L528.29,431.48 L529.16,431.91 L530.04,432.34 L530.91,432.75 L531.78,433.16 L532.65,433.55 L533.52,433.93 L534.40,434.30 L535.27,434.66 L536.14,435.01 L537.01,435.35 L537.88,435.68 L538.75,436.00 L539.63,436.31 L540.50,436.61 L541.37,436.90 L542.24,437.18 L543.11,437.45 L543.99,437.71 L544.86,437.96 L545.73,438.21 L546.60,438.44 L547.47,438.67 L548.34,438.89 L549.22,439.10 L550.09,439.30 L550.96,439.50 L551.83,439.68 L552.70,439.86 L553.58,440.03 L554.45,440.20 L555.32,440.35 L556.19,440.50 L557.06,440.65 L557.93,440.78 L558.81,440.91 L559.68,441.03 L560.55,441.15 L561.42,441.26 L562.29,441.36 L563.17,441.46 L564.04,441.55 L564.91,441.64 L565.78,441.72 L566.65,441.80 L567.52,441.87 L568.40,441.93 L569.27,441.99 L570.14,442.05 L571.01,442.10 L571.88,442.15 L572.76,442.20 L573.63,442.24 L574.50,442.27 L575.37,442.31 L576.24,442.34 L577.11,442.37 L577.99,442.39 L578.86,442.41 L579.73,442.43 L580.60,442.45 L581.47,442.46 L582.34,442.48 L583.22,442.49 L584.09,442.50 L584.96,442.51 L585.83,442.52 L586.70,442.52 L587.58,442.53 L588.45,442.54 L589.32,442.54 L590.19,442.55 L591.06,442.56 L591.93,442.56 L592.81,442.57 L593.68,442.58 L594.55,442.58 L595.42,442.59 L596.29,442.61 L597.17,442.62 L598.04,442.63 L598.91,442.65 L599.78,442.67 L600.65,442.69 L601.52,442.71 L602.40,442.73 L603.27,442.76 L604.14,442.79 L605.01,442.83 L605.88,442.86 L606.76,442.90 L607.63,442.95 L608.50,442.99 L609.37,443.04 L610.24,443.10 L611.11,443.16 L611.99,443.22 L612.86,443.29 L613.73,443.36 L614.60,443.43 L615.47,443.51 L616.35,443.60 L617.22,443.69 L618.09,443.78 L618.96,443.88 L619.83,443.98 L620.70,444.09 L621.58,444.21 L622.45,444.32 L623.32,444.45 L624.19,444.58 L625.06,444.71 L625.93,444.85 L626.81,445.00 L627.68,445.15 L628.55,445.30 L629.42,445.46 L630.29,445.63 L631.17,445.80 L632.04,445.97 L632.91,446.16 L633.78,446.34 L634.65,446.53 L635.52,446.73 L636.40,446.93 L637.27,447.14 L638.14,447.35 L639.01,447.57 L639.88,447.79 L640.76,448.02 L641.63,448.25 L642.50,448.49 L643.37,448.73 L644.24,448.97 L645.11,449.22 L645.99,449.47 L646.86,449.73 L647.73,449.99 L648.60,450.26 L649.47,450.53 L650.35,450.80 L651.22,451.07 L652.09,451.35 L652.96,451.64 L653.83,451.92 L654.70,452.21 L655.58,452.50 L656.45,452.80 L657.32,453.09 L658.19,453.39 L659.06,453.70 L659.94,454.00 L660.81,454.31 L661.68,454.61 L662.55,454.92 L663.42,455.24 L664.29,455.55 L665.17,455.86 L666.04,456.18 L666.91,456.49 L667.78,456.81 L668.65,457.13 L669.53,457.44 L670.40,457.76 L671.27,458.08 L672.14,458.40 L673.01,458.72 L673.88,459.04 L674.76,459.36 L675.63,459.67 L676.50,459.99 L677.37,460.31 L678.24,460.62 L679.11,460.94 L679.99,461.25 L680.86,461.56 L681.73,461.87 L682.60,462.18 L683.47,462.49 L684.35,462.80 L685.22,463.10 L686.09,463.41 L686.96,463.71 L687.83,464.00 L688.70,464.30 L689.58,464.60 L690.45,464.89 L691.32,465.18 L692.19,465.46 L693.06,465.75 L693.94,466.03 L694.81,466.31 L695.68,466.59 L696.55,466.86 L697.42,467.13 L698.29,467.40 L699.17,467.66 L700.04,467.93 L700.91,468.19 L701.78,468.44 L702.65,468.69 L703.53,468.94 L704.40,469.19 L705.27,469.43 L706.14,469.67 L707.01,469.91 L707.88,470.14 L708.76,470.37 L709.63,470.60 L710.50,470.83 L711.37,471.05 L712.24,471.26 L713.12,471.48 L713.99,471.69 L714.86,471.89 L715.73,472.10 L716.60,472.30 L717.47,472.50 L718.35,472.69 L719.22,472.88 L720.09,473.07 L720.96,473.25 L721.83,473.44 L722.71,473.61 L723.58,473.79 L724.45,473.96 L725.32,474.13 L726.19,474.30 L727.06,474.46 L727.94,474.62 L728.81,474.78 L729.68,474.93 L730.55,475.08 L731.42,475.23 L732.29,475.38 L733.17,475.52 L734.04,475.66 L734.91,475.80 L735.78,475.94 L736.65,476.07 L737.53,476.20 L738.40,476.33 L739.27,476.46 L740.14,476.58 L741.01,476.70 L741.88,476.82 L742.76,476.94 L743.63,477.05 L744.50,477.16 L745.37,477.27 L746.24,477.38 L747.12,477.49 L747.99,477.59 L748.86,477.69 L749.73,477.79 L750.60,477.89 L751.47,477.99 L752.35,478.08 L753.22,478.17 L754.09,478.26 L754.96,478.35 L755.83,478.44 L756.71,478.53 L757.58,478.61 L758.45,478.70 L759.32,478.78 L760.19,478.86 L761.06,478.94 L761.94,479.01 L762.81,479.09 L763.68,479.17 L764.55,479.24 L765.42,479.31 L766.30,479.38 L767.17,479.45 L768.04,479.52 L768.91,479.59 L769.78,479.65 L770.65,479.72 L771.53,479.78 L772.40,479.85 L773.27,479.91 L774.14,479.97 L775.01,480.03 L775.88,480.09 L776.76,480.15 L777.63,480.21 L778.50,480.26 L779.37,480.32 L780.24,480.38 L781.12,480.43 L781.99,480.48 L782.86,480.54 L783.73,480.59 L784.60,480.64 L785.47,480.69 L786.35,480.74 L787.22,480.79 L788.09,480.84 L788.96,480.89 L789.83,480.93 L790.71,480.98 L791.58,481.02 L792.45,481.07 L793.32,481.11 L794.19,481.16 L795.06,481.20 L795.94,481.24 L796.81,481.29 L797.68,481.33 L798.55,481.37 L799.42,481.41 L800.30,481.45 L801.17,481.49 L802.04,481.53 L802.91,481.57 L803.78,481.61 L804.65,481.64 L805.53,481.68 L806.40,481.72 L807.27,481.75 L808.14,481.79 L809.01,481.82 L809.89,481.86 L810.76,481.89 L811.63,481.93 L812.50,481.96 L813.37,481.99 L814.24,482.02 L815.12,482.06 L815.99,482.09 L816.86,482.12 L817.73,482.15 L818.60,482.18 L819.48,482.21 L820.35,482.24 L821.22,482.26 L822.09,482.29 L822.96,482.32 L823.83,482.35 L824.71,482.38 L825.58,482.40 L826.45,482.43 L827.32,482.45 L828.19,482.48 L829.06,482.50 L829.94,482.53 L830.81,482.55 L831.68,482.58 L832.55,482.60 L833.42,482.62 L834.30,482.64 L835.17,482.66 L836.04,482.69 L836.91,482.71 L837.78,482.73 L838.65,482.75 L839.53,482.77 L840.40,482.79 L841.27,482.81 L842.14,482.82 L843.01,482.84 L843.89,482.86 L844.76,482.88 L845.63,482.89 L846.50,482.91 L847.37,482.92 L848.24,482.94 L849.12,482.95 L849.99,482.97 L850.86,482.98 L851.73,483.00 L852.60,483.01 L853.48,483.02 L854.35,483.04 L855.22,483.05 L856.09,483.06 L856.96,483.07 L857.83,483.08 L858.71,483.09 L859.58,483.10 L860.45,483.11 L861.32,483.12 L862.19,483.13 L863.07,483.13 L863.94,483.14 L864.81,483.15 L865.68,483.15 L866.55,483.16 L867.42,483.17 L868.30,483.17 L869.17,483.18 L870.04,483.18 L870.91,483.18 L871.78,483.19 L872.65,483.19 L873.53,483.19 L874.40,483.19 L875.27,483.20 L876.14,483.20 L877.01,483.20 L877.89,483.20 L878.76,483.20 L879.63,483.20 L880.50,483.19 L881.37,483.19 L882.24,483.19 L883.12,483.19 L883.99,483.18 L884.86,483.18 L885.73,483.18 L886.60,483.17 L887.48,483.17 L888.35,483.16 L889.22,483.15 L890.09,483.15 L890.96,483.14 L891.83,483.13 L892.71,483.12 L893.58,483.12 L894.45,483.11" stroke="#0000ff"/>
</g>
<g stroke="#000" stroke-width="2.3" fill="none">
<line x1="110.75" y1="484.9" x2="110.75" y2="476.7"/>
<line x1="136.85" y1="484.9" x2="136.85" y2="479.7"/>
<line x1="162.94" y1="484.9" x2="162.94" y2="479.7"/>
<line x1="189.04" y1="484.9" x2="189.04" y2="479.7"/>
<line x1="215.13" y1="484.9" x2="215.13" y2="476.7"/>
<line x1="241.23" y1="484.9" x2="241.23" y2="479.7"/>
<line x1="267.32" y1="484.9" x2="267.32" y2="479.7"/>
<line x1="293.42" y1="484.9" x2="293.42" y2="479.7"/>
<line x1="319.51" y1="484.9" x2="319.51" y2="476.7"/>
<line x1="345.60" y1="484.9" x2="345.60" y2="479.7"/>
<line x1="371.70" y1="484.9" x2="371.70" y2="479.7"/>
<line x1="397.80" y1="484.9" x2="397.80" y2="479.7"/>
<line x1="423.89" y1="484.9" x2="423.89" y2="476.7"/>
<line x1="449.99" y1="484.9" x2="449.99" y2="479.7"/>
<line x1="476.08" y1="484.9" x2="476.08" y2="479.7"/>
<line x1="502.17" y1="484.9" x2="502.17" y2="479.7"/>
<line x1="528.27" y1="484.9" x2="528.27" y2="476.7"/>
<line x1="554.37" y1="484.9" x2="554.37" y2="479.7"/>
<line x1="580.46" y1="484.9" x2="580.46" y2="479.7"/>
<line x1="606.56" y1="484.9" x2="606.56" y2="479.7"/>
<line x1="632.65" y1="484.9" x2="632.65" y2="476.7"/>
<line x1="658.75" y1="484.9" x2="658.75" y2="479.7"/>
<line x1="684.84" y1="484.9" x2="684.84" y2="479.7"/>
<line x1="710.94" y1="484.9" x2="710.94" y2="479.7"/>
<line x1="737.03" y1="484.9" x2="737.03" y2="476.7"/>
<line x1="763.12" y1="484.9" x2="763.12" y2="479.7"/>
<line x1="789.22" y1="484.9" x2="789.22" y2="479.7"/>
<line x1="815.32" y1="484.9" x2="815.32" y2="479.7"/>
<line x1="841.41" y1="484.9" x2="841.41" y2="476.7"/>
<line x1="867.51" y1="484.9" x2="867.51" y2="479.7"/>
<line x1="893.60" y1="484.9" x2="893.60" y2="479.7"/>
<line x1="110.6" y1="484.75" x2="119.0" y2="484.75"/>
<line x1="110.6" y1="458.92" x2="115.89999999999999" y2="458.92"/>
<line x1="110.6" y1="433.09" x2="115.89999999999999" y2="433.09"/>
<line x1="110.6" y1="407.26" x2="115.89999999999999" y2="407.26"/>
<line x1="110.6" y1="381.43" x2="115.89999999999999" y2="381.43"/>
<line x1="110.6" y1="355.60" x2="119.0" y2="355.60"/>
<line x1="110.6" y1="329.77" x2="115.89999999999999" y2="329.77"/>
<line x1="110.6" y1="303.94" x2="115.89999999999999" y2="303.94"/>
<line x1="110.6" y1="278.11" x2="115.89999999999999" y2="278.11"/>
<line x1="110.6" y1="252.28" x2="115.89999999999999" y2="252.28"/>
<line x1="110.6" y1="226.45" x2="119.0" y2="226.45"/>
<line x1="110.6" y1="200.62" x2="115.89999999999999" y2="200.62"/>
<line x1="110.6" y1="174.79" x2="115.89999999999999" y2="174.79"/>
<line x1="110.6" y1="148.96" x2="115.89999999999999" y2="148.96"/>
<line x1="110.6" y1="123.13" x2="115.89999999999999" y2="123.13"/>
<line x1="110.6" y1="97.30" x2="119.0" y2="97.30"/>
<line x1="110.6" y1="71.47" x2="115.89999999999999" y2="71.47"/>
<line x1="110.6" y1="45.64" x2="115.89999999999999" y2="45.64"/>
<line x1="110.6" y1="19.81" x2="115.89999999999999" y2="19.81"/>
</g>
<rect x="110.6" y="0.7" width="783.1" height="484.2" fill="none" stroke="#000" stroke-width="2.6"/>
<g font-size="29.8" fill="#000">
<rect x="81.45" y="510.15" width="14.9" height="2.3" fill="#000"/>
<path d="M763 0H583V1147Q518 1085 412.5 1023Q307 961 223 930V1104Q374 1175 487 1276Q600 1377 647 1472H763Z" transform="translate(98.85,519.50) scale(0.01455,-0.01459)" fill="#000"/>
<text xml:space="preserve" transform="translate(115.42,519.50) scale(1,1.05)">.0</text>
<rect x="185.83" y="510.15" width="14.9" height="2.3" fill="#000"/>
<text xml:space="preserve" transform="translate(203.23,519.50) scale(1,1.05)">0.8</text>
<rect x="290.21" y="510.15" width="14.9" height="2.3" fill="#000"/>
<text xml:space="preserve" transform="translate(307.61,519.50) scale(1,1.05)">0.6</text>
<rect x="394.59" y="510.15" width="14.9" height="2.3" fill="#000"/>
<text xml:space="preserve" transform="translate(411.99,519.50) scale(1,1.05)">0.4</text>
<rect x="498.97" y="510.15" width="14.9" height="2.3" fill="#000"/>
<text xml:space="preserve" transform="translate(516.37,519.50) scale(1,1.05)">0.2</text>
<text xml:space="preserve" transform="translate(611.94,519.50) scale(1,1.05)">0.0</text>
<text xml:space="preserve" transform="translate(716.32,519.50) scale(1,1.05)">0.2</text>
<text xml:space="preserve" transform="translate(820.70,519.50) scale(1,1.05)">0.4</text>
<text xml:space="preserve" transform="translate(86.83,495.20) scale(1,1.05)">0</text>
<text xml:space="preserve" transform="translate(70.26,366.05) scale(1,1.05)">50</text>
<path d="M763 0H583V1147Q518 1085 412.5 1023Q307 961 223 930V1104Q374 1175 487 1276Q600 1377 647 1472H763Z" transform="translate(53.69,236.90) scale(0.01455,-0.01459)" fill="#000"/>
<text xml:space="preserve" transform="translate(70.26,236.90) scale(1,1.05)">00</text>
<path d="M763 0H583V1147Q518 1085 412.5 1023Q307 961 223 930V1104Q374 1175 487 1276Q600 1377 647 1472H763Z" transform="translate(53.69,107.75) scale(0.01455,-0.01459)" fill="#000"/>
<text xml:space="preserve" transform="translate(70.26,107.75) scale(1,1.05)">50</text>
</g>
<text x="125.4" y="55.0" font-size="39.9" font-weight="bold">(c)</text>
<!-- legend -->
<rect x="595.1" y="8.05" width="288.7" height="157.4" rx="12.3" ry="12.3" fill="#fff" stroke="#000" stroke-width="2.1"/>
<g fill="none" stroke-width="5.3">
<line x1="609.7" y1="33.8" x2="707.6" y2="33.8" stroke="#996633" stroke-dasharray="55.2 19.9"/>
<line x1="609.7" y1="85.6" x2="707.6" y2="85.6" stroke="#00ff00" stroke-dasharray="15.05 4.93"/>
<line x1="609.7" y1="137.6" x2="707.6" y2="137.6" stroke="#0000ff"/>
</g>
<g font-size="29.8" fill="#000">
<text xml:space="preserve" transform="translate(724.40,43.50) scale(1,1.05)">T</text>
<text transform="translate(742.61,45.10) scale(1,1.05)">=</text>
<path d="M763 0H583V1147Q518 1085 412.5 1023Q307 961 223 930V1104Q374 1175 487 1276Q600 1377 647 1472H763Z" transform="translate(768.30,43.50) scale(0.01455,-0.01459)" fill="#000"/>
<text xml:space="preserve" transform="translate(784.86,43.50) scale(1,1.05)">80 mK</text>
<text xml:space="preserve" transform="translate(724.40,95.00) scale(1,1.05)">T</text>
<text transform="translate(742.61,96.60) scale(1,1.05)">=</text>
<path d="M763 0H583V1147Q518 1085 412.5 1023Q307 961 223 930V1104Q374 1175 487 1276Q600 1377 647 1472H763Z" transform="translate(768.30,95.00) scale(0.01455,-0.01459)" fill="#000"/>
<text xml:space="preserve" transform="translate(784.86,95.00) scale(1,1.05)">40 mK</text>
<text xml:space="preserve" transform="translate(724.40,146.80) scale(1,1.05)">T</text>
<text transform="translate(742.61,148.40) scale(1,1.05)">=</text>
<path d="M763 0H583V1147Q518 1085 412.5 1023Q307 961 223 930V1104Q374 1175 487 1276Q600 1377 647 1472H763Z" transform="translate(768.30,146.80) scale(0.01455,-0.01459)" fill="#000"/>
<text xml:space="preserve" transform="translate(784.86,146.80) scale(1,1.05)">0 mK</text>
</g>
<!-- x label -->
<g font-weight="bold" fill="#000">
<text transform="translate(449.9,570.4) scale(1,0.95)" x="0" y="0" font-size="37.4">&#916;</text>
<text x="478.3" y="577.2" font-size="24" font-style="italic">c</text>
<polygon points="495.1,570.2 498.9,570.2 504.3,545 500.5,545"/>
<text transform="translate(507.0,570.6) scale(1.14,0.98)" x="0" y="0" font-size="32" font-style="italic">&#969;</text>
<text x="536.8" y="577.2" font-size="24" font-style="italic">s</text>
</g>
<!-- y label -->
<g font-weight="bold" fill="#000" transform="translate(31.2,268.6) rotate(-90)">
<text transform="scale(0.96,1)" x="0" y="0" font-size="35.7" font-style="italic">B</text>
<text transform="translate(24.3,7.2) scale(0.96,1)" x="0" y="0" font-size="25.6">MI</text>
</g>
</svg>
</body></html>
